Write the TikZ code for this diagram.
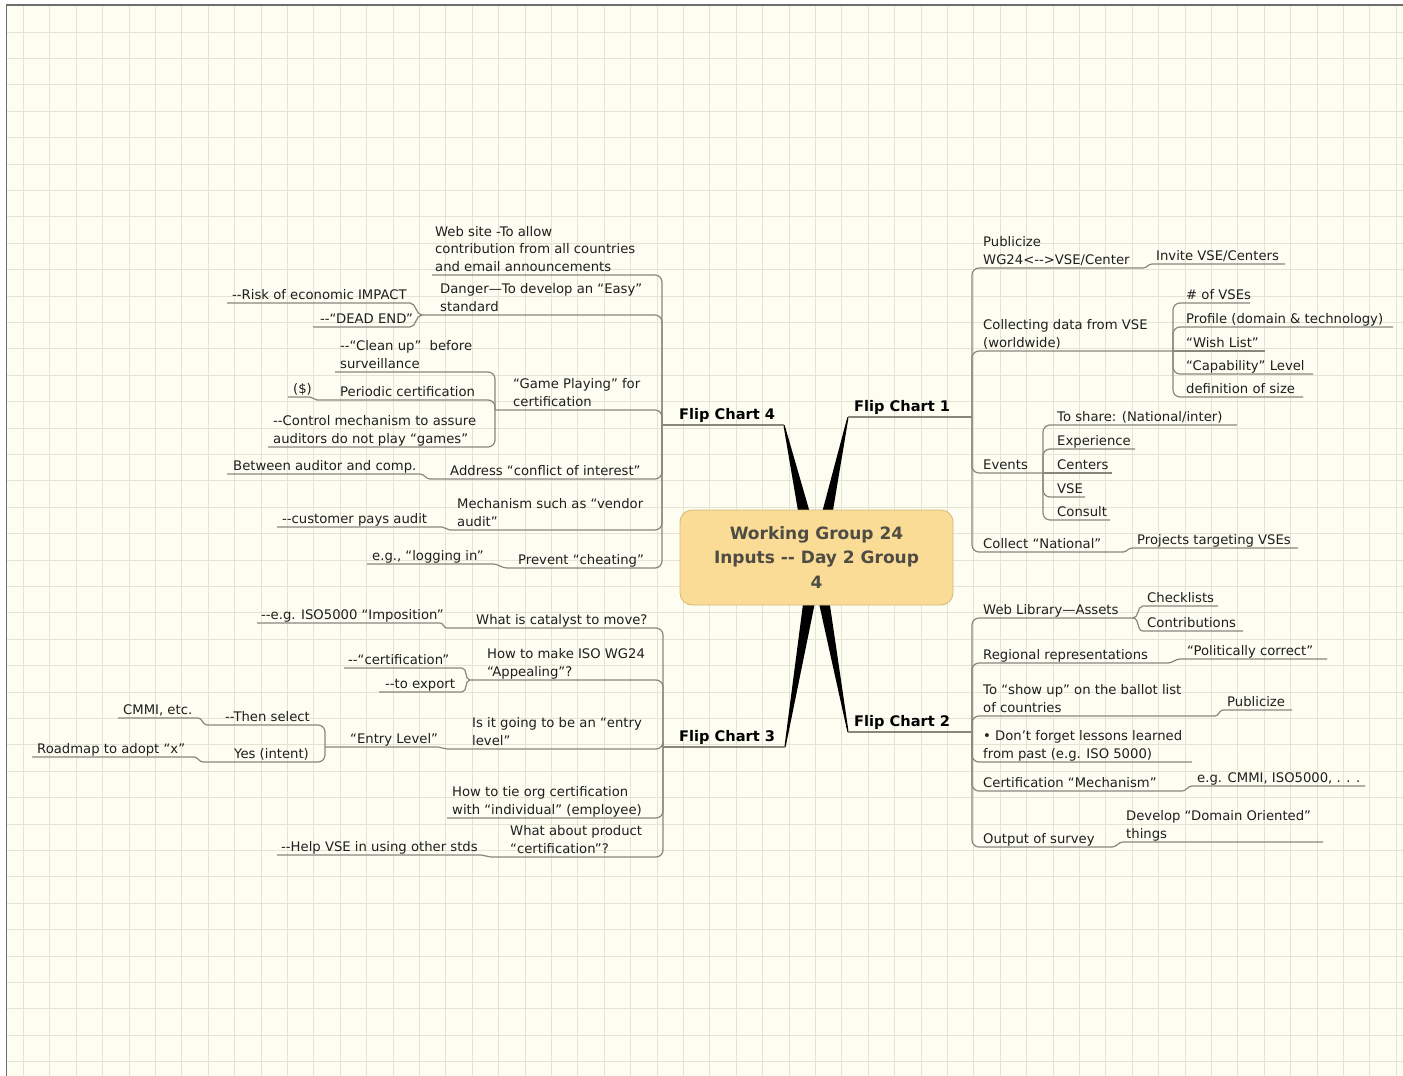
\documentclass[tikz,border=0pt]{standalone}
\usepackage{fontspec}
\newfontfamily\tf{DejaVu Sans}
\definecolor{bg}{RGB}{253,253,242}
\definecolor{gridc}{RGB}{228,228,212}
\definecolor{lnc}{RGB}{135,135,126}
\definecolor{txc}{RGB}{30,30,30}
\definecolor{boxf}{RGB}{250,220,150}
\definecolor{boxd}{RGB}{212,184,118}
\definecolor{ttc}{RGB}{78,76,68}
\definecolor{brd}{RGB}{110,110,110}
\tikzset{
  tx/.style={font=\tf\fontsize{13.2}{17.5}\selectfont, text=txc, inner sep=0pt, align=left, anchor=south west, execute at end node=\strut},
  fcx/.style={font=\tf\bfseries\fontsize{14.6}{18}\selectfont, text=black, inner sep=0pt, anchor=south west, execute at end node=\strut},
  ln/.style={draw=lnc, line width=1.2pt, rounded corners=7pt},
  sl/.style={draw=lnc, line width=1.2pt},
  spike/.style={fill=black},
  gridl/.style={draw=gridc, line width=1pt},
}
% #1 name, #2 text x, #3 underline y, #4 left end x, #5 right end x, #6 text
\newcommand\tp[6]{%
  \node[tx] (#1) at (#2,#3+1.5) {#6};
  \coordinate (#1-l) at (#4,#3);
  \coordinate (#1-r) at (#5,#3);
}
\begin{document}
\begin{tikzpicture}[x=1pt,y=-1pt]
\useasboundingbox (0,0) rectangle (1403,1076);
\fill[white] (0,0) rectangle (1403,1076);
\fill[bg] (6.5,5) rectangle (1403,1076);
\foreach \i in {0,...,52} {\draw[gridl] ({23.4+26.4*\i},5) -- ({23.4+26.4*\i},1076);}
\foreach \j in {1,...,40} {\draw[gridl] (6.5,{5.6+26.4*\j}) -- (1403,{5.6+26.4*\j});}
\draw[brd, line width=1.6pt] (6.5,1076) -- (6.5,5) -- (1403,5);

% ---------- spikes ----------
\coordinate (c4a) at (806,558); \coordinate (c4b) at (823,558);
\coordinate (c1a) at (810,558); \coordinate (c1b) at (825,558);
\coordinate (c3a) at (809,558); \coordinate (c3b) at (824,558);
\coordinate (c2a) at (809,558); \coordinate (c2b) at (823,558);
\coordinate (fc4-r) at (784,425); \coordinate (fc4-l) at (662,425);
\coordinate (fc1-l) at (848,417); \coordinate (fc1-r) at (972,417);
\coordinate (fc3-r) at (785,747); \coordinate (fc3-l) at (663,747);
\coordinate (fc2-l) at (848,732); \coordinate (fc2-r) at (972,732);
\fill[spike] (c4a) -- ([xshift=-0.6pt]fc4-r) -- ([xshift=0.6pt]fc4-r) -- (c4b) -- cycle;
\fill[spike] (c1a) -- ([xshift=-0.6pt]fc1-l) -- ([xshift=0.6pt]fc1-l) -- (c1b) -- cycle;
\fill[spike] (c3a) -- ([xshift=-0.6pt]fc3-r) -- ([xshift=0.6pt]fc3-r) -- (c3b) -- cycle;
\fill[spike] (c2a) -- ([xshift=-0.6pt]fc2-l) -- ([xshift=0.6pt]fc2-l) -- (c2b) -- cycle;

% ---------- central topic ----------
\node[draw=boxd, fill=boxf, rounded corners=12pt, line width=0.8pt, minimum width=273pt, minimum height=95pt,
      align=center, text=ttc, font=\tf\bfseries\fontsize{17}{24.5}\selectfont] (root) at (816.5,557.5)
      {Working Group 24\\Inputs -- Day 2 Group\\4};

% ---------- main branches ----------
\node[fcx] (fc1) at (854,417) {Flip Chart 1};
\node[fcx] (fc2) at (854,732) {Flip Chart 2};
\node[fcx] (fc3) at (679,747) {Flip Chart 3};
\node[fcx] (fc4) at (679,425) {Flip Chart 4};
\draw[sl] (fc1-l) -- (fc1-r);
\draw[sl] (fc2-l) -- (fc2-r);
\draw[sl] (fc3-l) -- (fc3-r);
\draw[sl] (fc4-l) -- (fc4-r);

% ---------- Flip Chart 1 ----------
\tp{pub}{983}{268}{972}{1143}{Publicize\\WG24<-->VSE/Center}
\tp{inv}{1156}{264}{1152}{1285}{Invite VSE/Centers}
\tp{coll}{983}{351}{972}{1173}{Collecting data from VSE\\(worldwide)}
\tp{vses}{1186}{303}{1173}{1250}{\# of VSEs}
\tp{prof}{1186}{327}{1173}{1393}{Profile (domain \& technology)}
\tp{wish}{1186}{351}{1173}{1265}{“Wish List”}
\tp{capa}{1186}{374}{1173}{1313}{“Capability” Level}
\tp{defs}{1186}{397}{1173}{1303}{definition of size}
\tp{events}{983}{473}{972}{1043}{Events}
\tp{share}{1057}{425}{1043}{1237}{To share: (National/inter)}
\tp{exper}{1057}{449}{1043}{1135}{Experience}
\tp{centers}{1057}{473}{1043}{1112}{Centers}
\tp{vse}{1057}{497}{1043}{1085}{VSE}
\tp{consult}{1057}{520}{1043}{1110}{Consult}
\tp{natl}{983}{552}{972}{1123}{Collect “National”}
\tp{proj}{1137}{548}{1132}{1298}{Projects targeting VSEs}

\draw[ln] (fc1-r) |- (pub-r);
\draw[sl] (pub-r) to[out=0,in=180] (inv-l) -- (inv-r);
\draw[ln] (fc1-r) |- (coll-r);
\draw[ln] (coll-r) |- (vses-r);
\draw[ln] (coll-r) |- (prof-r);
\draw[sl] (coll-r) -- (wish-r);
\draw[ln] (coll-r) |- (capa-r);
\draw[ln] (coll-r) |- (defs-r);
\draw[ln] (fc1-r) |- (events-r);
\draw[ln] (events-r) |- (share-r);
\draw[ln] (events-r) |- (exper-r);
\draw[sl] (events-r) -- (centers-r);
\draw[ln] (events-r) |- (vse-r);
\draw[ln] (events-r) |- (consult-r);
\draw[ln] (fc1-r) |- (natl-r);
\draw[sl] (natl-r) to[out=0,in=180] (proj-l) -- (proj-r);

% ---------- Flip Chart 2 ----------
\tp{weblib}{983}{618}{972}{1133}{Web Library—Assets}
\tp{check}{1147}{606}{1143}{1218}{Checklists}
\tp{contrib}{1147}{631}{1143}{1243}{Contributions}
\tp{region}{983}{663}{972}{1168}{Regional representations}
\tp{polit}{1187}{659}{1180}{1327}{“Politically correct”}
\tp{show}{983}{716}{972}{1215}{To “show up” on the ballot list\\of countries}
\tp{publ}{1227}{710}{1223}{1292}{Publicize}
\tp{forget}{983}{762}{972}{1192}{• Don’t forget lessons learned\\from past (e.g. ISO 5000)}
\tp{mech}{983}{791}{972}{1182}{Certification “Mechanism”}
\tp{egcmmi}{1197}{786}{1192}{1365}{e.g. CMMI, ISO5000, . . .}
\tp{output}{983}{847}{972}{1112}{Output of survey}
\tp{develop}{1126}{842}{1123}{1323}{Develop “Domain Oriented”\\things}

\draw[ln] (fc2-r) |- (weblib-r);
\draw[sl] (weblib-r) to[out=0,in=180] (check-l) -- (check-r);
\draw[sl] (weblib-r) to[out=0,in=180] (contrib-l) -- (contrib-r);
\draw[ln] (fc2-r) |- (region-r);
\draw[sl] (region-r) to[out=0,in=180] (polit-l) -- (polit-r);
\draw[ln] (fc2-r) |- (show-r);
\draw[sl] (show-r) to[out=0,in=180] (publ-l) -- (publ-r);
\draw[ln] (fc2-r) |- (forget-r);
\draw[ln] (fc2-r) |- (mech-r);
\draw[sl] (mech-r) to[out=0,in=180] (egcmmi-l) -- (egcmmi-r);
\draw[ln] (fc2-r) |- (output-r);
\draw[sl] (output-r) to[out=0,in=180] (develop-l) -- (develop-r);

% ---------- Flip Chart 4 ----------
\tp{web}{435}{275}{432}{662}{Web site -To allow\\contribution from all countries\\and email announcements}
\tp{danger}{440}{315}{422}{662}{Danger—To develop an “Easy”\\standard}
\tp{risk}{232}{303}{227}{410}{--Risk of economic IMPACT}
\tp{dead}{320}{327}{313}{410}{--“DEAD END”}
\tp{game}{513}{410}{495}{662}{“Game Playing” for\\certification}
\tp{clean}{340}{372}{335}{495}{--“Clean up”\ \ before\\surveillance}
\tp{period}{340}{400}{317}{495}{Periodic certification}
\tp{dollar}{293}{397}{288}{310}{(\$)}
\tp{control}{273}{447}{268}{495}{--Control mechanism to assure\\auditors do not play “games”}
\tp{address}{450}{479}{430}{662}{Address “conflict of interest”}
\tp{between}{233}{474}{227}{420}{Between auditor and comp.}
\tp{mechv}{457}{530}{450}{662}{Mechanism such as “vendor\\audit”}
\tp{cust}{282}{527}{277}{442}{--customer pays audit}
\tp{prevent}{518}{568}{507}{662}{Prevent “cheating”}
\tp{login}{372}{564}{367}{493}{e.g., “logging in”}

\draw[ln] (fc4-l) |- (web-l);
\draw[ln] (fc4-l) |- (danger-l);
\draw[sl] (danger-l) to[out=180,in=0] (risk-r) -- (risk-l);
\draw[sl] (danger-l) to[out=180,in=0] (dead-r) -- (dead-l);
\draw[ln] (fc4-l) |- (game-l);
\draw[ln] (game-l) |- (clean-l);
\draw[ln] (game-l) |- (period-l);
\draw[sl] (period-l) to[out=180,in=0] (dollar-r) -- (dollar-l);
\draw[ln] (game-l) |- (control-l);
\draw[ln] (fc4-l) |- (address-l);
\draw[sl] (address-l) to[out=180,in=0] (between-r) -- (between-l);
\draw[ln] (fc4-l) |- (mechv-l);
\draw[sl] (mechv-l) to[out=180,in=0] (cust-r) -- (cust-l);
\draw[ln] (fc4-l) |- (prevent-l);
\draw[sl] (prevent-l) to[out=180,in=0] (login-r) -- (login-l);

% ---------- Flip Chart 3 ----------
\tp{cat}{476}{628}{447}{663}{What is catalyst to move?}
\tp{impos}{261}{623}{257}{440}{--e.g. ISO5000 “Imposition”}
\tp{appeal}{487}{680}{470}{663}{How to make ISO WG24\\“Appealing”?}
\tp{certq}{348}{668}{344}{462}{--“certification”}
\tp{export}{385}{692}{379}{462}{--to export}
\tp{entry}{472}{749}{447}{663}{Is it going to be an “entry\\level”}
\tp{entrylvl}{350}{747}{325}{438}{“Entry Level”}
\tp{thensel}{225}{725}{207}{325}{--Then select}
\tp{cmmi}{123}{718}{118}{198}{CMMI, etc.}
\tp{yes}{234}{762}{203}{325}{Yes (intent)}
\tp{roadmap}{37}{757}{32}{194}{Roadmap to adopt “x”}
\tp{tie}{452}{818}{447}{663}{How to tie org certification\\with “individual” (employee)}
\tp{product}{510}{857}{491}{663}{What about product\\“certification”?}
\tp{help}{281}{855}{277}{481}{--Help VSE in using other stds}

\draw[ln] (fc3-l) |- (cat-l);
\draw[sl] (cat-l) to[out=180,in=0] (impos-r) -- (impos-l);
\draw[ln] (fc3-l) |- (appeal-l);
\draw[sl] (appeal-l) to[out=180,in=0] (certq-r) -- (certq-l);
\draw[sl] (appeal-l) to[out=180,in=0] (export-r) -- (export-l);
\draw[ln] (fc3-l) |- (entry-l);
\draw[sl] (entry-l) to[out=180,in=0] (entrylvl-r) -- (entrylvl-l);
\draw[ln] (entrylvl-l) |- (thensel-l);
\draw[sl] (thensel-l) to[out=180,in=0] (cmmi-r) -- (cmmi-l);
\draw[ln] (entrylvl-l) |- (yes-l);
\draw[sl] (yes-l) to[out=180,in=0] (roadmap-r) -- (roadmap-l);
\draw[ln] (fc3-l) |- (tie-l);
\draw[ln] (fc3-l) |- (product-l);
\draw[sl] (product-l) to[out=180,in=0] (help-r) -- (help-l);
\end{tikzpicture}
\end{document}
